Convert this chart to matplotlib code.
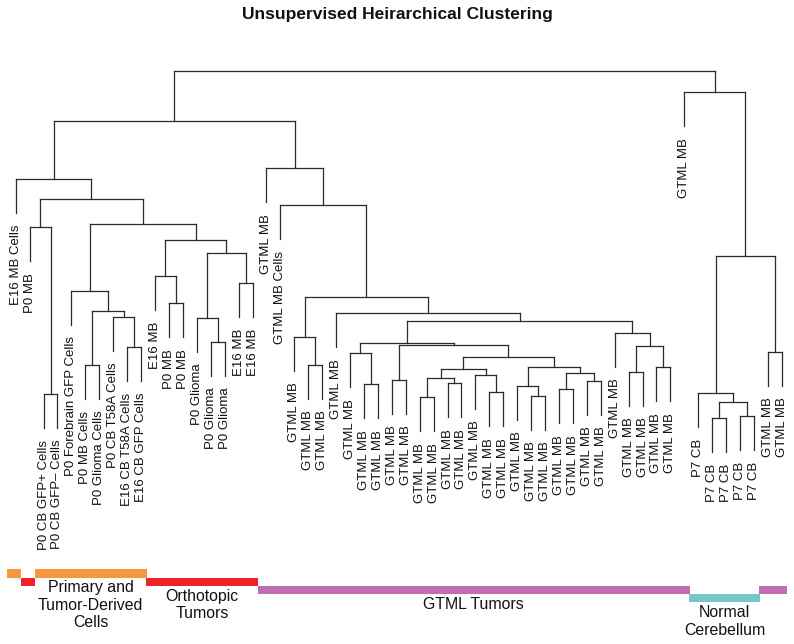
import matplotlib
matplotlib.use("Agg")
import matplotlib.pyplot as plt
from matplotlib.collections import LineCollection

# ---------------- data ----------------
title = "Unsupervised Heirarchical Clustering"

# leaf labels in display (dendrogram) order
leaf_labels = (
    ["E16 MB Cells", "P0 MB", "P0 CB GFP+ Cells", "P0 CB GFP\u2013 Cells",
     "P0 Forebrain GFP Cells", "P0 MB Cells", "P0 Glioma Cells",
     "P0 CB T58A Cells", "E16 CB T58A Cells", "E16 CB GFP Cells",
     "E16 MB", "P0 MB", "P0 MB", "P0 Glioma", "P0 Glioma", "P0 Glioma",
     "E16 MB", "E16 MB",
     "GTML MB", "GTML MB Cells"]
    + ["GTML MB"] * 29
    + ["P7 CB"] * 5
    + ["GTML MB"] * 2
)

# sample group of each leaf (display order)
leaf_groups = (
    ["Primary"] + ["Orthotopic"] + ["Primary"] * 8 + ["Orthotopic"] * 8
    + ["GTML"] * 31 + ["Normal"] * 5 + ["GTML"] * 2
)

# hclust-style merge table: negative = leaf (1-based), positive = earlier merge (1-based)
merge_left = [-3, -2, -6, -9, -8, 3, -5, -12, -11, -15, -14, -17, 11, 9, 7, 2, -1,
              -22, -21, -26, -25, -28, -30, -32, 23, -35, -34, 25, -38, -37, -40, -42,
              31, 30, 28, 22, 21, -45, -47, 38, -44, 37, -24, 19, -20, -19, 17,
              -51, -53, 48, -50, -55, 51, -49, 47]
merge_right = [-4, 1, -7, -10, 4, 5, 6, -13, 8, -16, 10, -18, 12, 13, 14, 15, 16,
               -23, 18, -27, 20, -29, -31, -33, 24, -36, 26, 27, -39, 29, -41, -43,
               32, 33, 34, 35, 36, -46, -48, 39, 40, 41, 42, 43, 44, 45, 46,
               -52, -54, 49, 50, -56, 52, 53, 54]
merge_height = [8.60, 25.27, 11.50, 13.27, 16.33, 16.93, 18.93, 17.67, 20.40, 13.83,
                16.23, 19.73, 22.67, 24.00, 25.57, 28.07, 30.07,
                11.50, 14.33, 9.57, 12.67, 10.00, 8.27, 9.67, 10.17, 8.77, 10.50,
                11.07, 8.43, 9.43, 9.07, 9.90, 10.67, 11.27, 12.27, 13.50, 13.73,
                10.83, 11.27, 13.40, 14.73, 15.90, 16.67, 18.27, 27.50, 31.17, 35.93,
                6.20, 6.40, 7.83, 8.67, 12.83, 22.43, 38.77, 40.93]

group_order = ["Primary", "Orthotopic", "GTML", "Normal"]
group_names = {
    "Primary": "Primary and\nTumor-Derived\nCells",
    "Orthotopic": "Orthotopic\nTumors",
    "GTML": "GTML Tumors",
    "Normal": "Normal\nCerebellum",
}
group_colors = {
    "Primary": "#F7963C",
    "Orthotopic": "#EE2229",
    "GTML": "#C06EB3",
    "Normal": "#76C5CB",
}

# ---------------- figure ----------------
W, H = 794, 644
fig = plt.figure(figsize=(W / 100, H / 100), dpi=100)
fig.patch.set_facecolor("white")

step = 13.93      # px between leaves
x0 = 15.7         # px of first leaf
yscale = 10.0     # px per height unit
ybase = 480.0     # px of height 0
hang = 3.4

ax = fig.add_axes([0, 0, 1, 1])
ax.set_xlim(-x0 / step, (W - x0) / step)
ax.set_ylim((ybase - H) / yscale, ybase / yscale)
ax.axis("off")

# compute x positions of nodes by traversal
n_leaf = len(leaf_labels)
node_x = {}
node_h = {}
counter = [0]
leaf_x = {}


def walk(ref):
    if ref < 0:
        idx = -ref - 1
        x = counter[0]
        counter[0] += 1
        leaf_x[idx] = x
        return x
    k = ref - 1
    xa = walk(merge_left[k])
    xb = walk(merge_right[k])
    node_x[ref] = (xa + xb) / 2
    return node_x[ref]


root = len(merge_height)
walk(root)

segs = []
leaf_ends = {}
for k in range(len(merge_height)):
    h = merge_height[k]
    xs = []
    for ch in (merge_left[k], merge_right[k]):
        if ch < 0:
            cx = leaf_x[-ch - 1]
            ch_h = h - hang
            leaf_ends[-ch - 1] = ch_h
        else:
            cx = node_x[ch]
            ch_h = merge_height[ch - 1]
        segs.append([(cx, ch_h), (cx, h)])
        xs.append(cx)
    segs.append([(xs[0], h), (xs[1], h)])

ax.add_collection(LineCollection(segs, colors="#2a2a2a", linewidths=0.9,
                                 capstyle="projecting"))

label_font = ["Liberation Sans", "DejaVu Sans"]
for i, lab in enumerate(leaf_labels):
    xi = leaf_x[i]
    ax.text(xi, leaf_ends[i] - 1.15, lab, rotation=90, ha="center", va="top",
            fontsize=9.5, family=label_font, color="#111111")

# title
fig.text(0.5, 1 - 15 / H, title, ha="center", va="center", fontsize=12.5,
         fontweight="bold", family=["Liberation Sans Narrow", "Liberation Sans", "DejaVu Sans"],
         color="#111111")

# ---------------- colour bars ----------------
bar_top, bar_bot = 569.3, 602.3
ax2 = fig.add_axes([0, 1 - bar_bot / H, 1, (bar_bot - bar_top) / H])
ax2.set_xlim(ax.get_xlim())
ax2.set_ylim(len(group_order), 0)
ax2.axis("off")

runs = []
start = 0
for i in range(1, n_leaf + 1):
    if i == n_leaf or leaf_groups[i] != leaf_groups[start]:
        runs.append((leaf_groups[start], start, i - 1))
        start = i

left_off, right_off = 0.63, 0.40
for g, a, b in runs:
    lvl = group_order.index(g)
    ax2.barh(lvl + 0.5, (b + right_off) - (a - left_off), left=a - left_off,
             height=1.0, color=group_colors[g], linewidth=0)

# label for each group at its widest run
for g in group_order:
    best = max((r for r in runs if r[0] == g), key=lambda r: r[2] - r[1])
    cx = (best[1] - left_off + best[2] + right_off) / 2
    lvl = group_order.index(g)
    ax2.text(cx, lvl + 1.35, group_names[g], ha="center", va="top",
             fontsize=11.4, family=label_font, color="#111111",
             linespacing=1.2, clip_on=False)

fig.savefig("out.png", dpi=100, facecolor="white")
